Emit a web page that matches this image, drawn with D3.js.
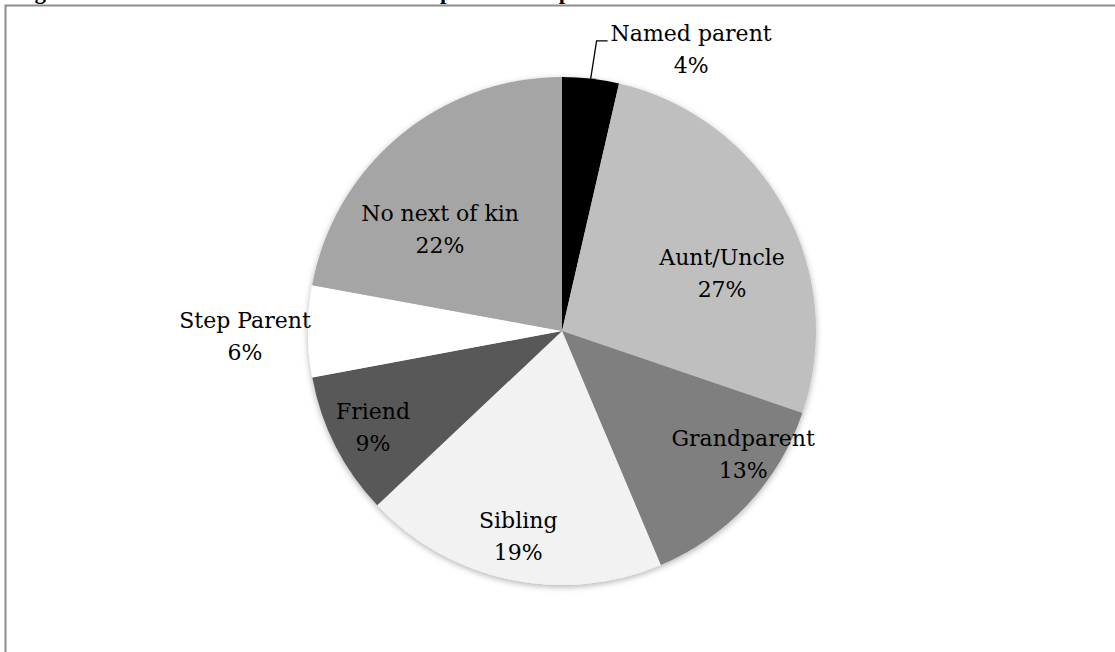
<!DOCTYPE html>
<html>
<head>
<meta charset="utf-8">
<script src="https://cdn.jsdelivr.net/npm/d3@7"></script>
<style>
  html, body { margin: 0; padding: 0; background: #fff; }
  svg { display: block; }
</style>
</head>
<body>
<svg id="chart" width="1115" height="652"></svg>
<script>
// ---- Data ----
const categories = ["Named parent", "Aunt/Uncle", "Grandparent", "Sibling", "Friend", "Step Parent", "No next of kin"];
const values     = [3.6, 26.6, 13.4, 19.3, 9.1, 5.8, 22.1];
const colors     = ["#000000", "#bfbfbf", "#7f7f7f", "#f2f2f2", "#595959", "#ffffff", "#a5a5a5"];
const titleText  = "Figure 5: Next of kin of all the children not placed with parents";

// ---- Layout ----
const W = 1115, H = 652;
const cx = 562, cy = 331, R = 254;
// label placement relative to each slice: angle shift (deg) and radius factor
const labelPlacement = {
  "Named parent":   { shift: 17.8, rf: 1.236, leader: true },
  "Aunt/Uncle":     { shift: 7.9,  rf: 0.676 },
  "Grandparent":    { shift: -9.7, rf: 0.853 },
  "Sibling":        { shift: 0.4,  rf: 0.81 },
  "Friend":         { shift: 0.9,  rf: 0.828 },
  "Step Parent":    { shift: -0.1, rf: 1.248 },
  "No next of kin": { shift: -9.2, rf: 0.636 }
};

const svg = d3.select("#chart");

// shadow filter
const defs = svg.append("defs");
const f = defs.append("filter").attr("id", "shadow")
  .attr("x", "-10%").attr("y", "-10%").attr("width", "120%").attr("height", "120%");
f.append("feDropShadow").attr("dx", 0).attr("dy", 2).attr("stdDeviation", 3)
  .attr("flood-color", "#000").attr("flood-opacity", 0.3);

// border (chart area frame)
svg.append("rect")
  .attr("x", 5.5).attr("y", 5.5)
  .attr("width", W + 20).attr("height", H + 20)
  .attr("fill", "none").attr("stroke", "#8c8c8c").attr("stroke-width", 2);

// page caption above the chart, cut off by the top edge (only descenders show)
svg.append("text")
  .attr("x", 14).attr("y", -1)
  .attr("font-family", "Liberation Serif, serif")
  .attr("font-weight", "bold")
  .attr("font-size", 23)
  .attr("fill", "#000")
  .text(titleText);

const data = categories.map((c, i) => ({ name: c, value: values[i], color: colors[i] }));
const total = d3.sum(values);

const pie = d3.pie().sort(null).value(d => d.value).startAngle(0).endAngle(2 * Math.PI);
const arc = d3.arc().innerRadius(0).outerRadius(R);
const arcs = pie(data);

const g = svg.append("g").attr("transform", `translate(${cx},${cy})`);

g.append("g").attr("filter", "url(#shadow)")
  .selectAll("path").data(arcs).join("path")
  .attr("d", arc)
  .attr("fill", d => d.data.color);

const polar = (a, r) => [Math.sin(a) * r, -Math.cos(a) * r];
const pct = d3.format(".0%");

const labels = g.append("g")
  .attr("font-family", "DejaVu Serif, serif")
  .attr("font-size", 22)
  .attr("fill", "#000");

arcs.forEach(d => {
  const p = labelPlacement[d.data.name];
  const mid = (d.startAngle + d.endAngle) / 2;
  const a = mid + p.shift * Math.PI / 180;
  const [x, y] = polar(a, R * p.rf);
  const t = labels.append("text").attr("text-anchor", "middle");
  const t1 = t.append("tspan").attr("x", x).attr("y", y - 4).text(d.data.name);
  t.append("tspan").attr("x", x).attr("y", y + 28).text(pct(Math.round(d.value / total * 100) / 100));
  if (p.leader) {
    const w = t1.node().getComputedTextLength();
    const left = x - w / 2;
    const [sx, sy] = polar(mid, R);
    const path = d3.path();
    path.moveTo(sx, sy);
    path.lineTo(left - 14, y - 4);
    path.lineTo(left - 3, y - 4);
    g.append("path").attr("d", path.toString())
      .attr("fill", "none").attr("stroke", "#000").attr("stroke-width", 1.3);
  }
});
</script>
</body>
</html>
